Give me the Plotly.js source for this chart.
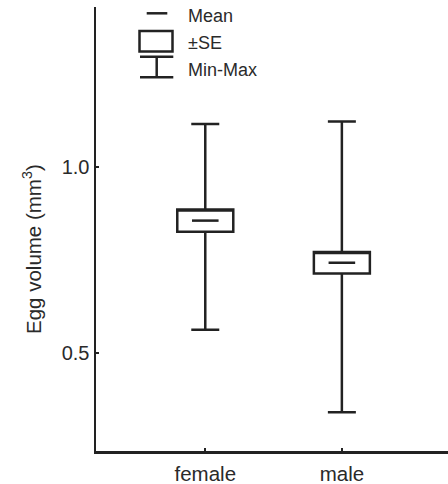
<!DOCTYPE html>
<html>
<head>
<meta charset="utf-8">
<script src="https://cdn.plot.ly/plotly-3.0.1.min.js"></script>
<style>html,body{margin:0;padding:0;background:#fff;}#chart{width:448px;height:484px;}</style>
</head>
<body>
<div id="chart"></div>
<script>
// Data
const categories = ["female", "male"];
const meanVals = [0.855, 0.742];
const seVals = [0.030, 0.029];
const minVals = [0.562, 0.341];
const maxVals = [1.114, 1.121];
const yTickVals = [0.5, 1.0];
const legendLabels = ["Mean", "\u00b1SE", "Min-Max"];
const yTitle = "Egg volume (mm<sup>3</sup>)";

const INK = "#222";
const TXT = "#2a2a2a";
const FONT = "Liberation Sans, Arial, sans-serif";

const W = 448, H = 484;
const M = {l: 96, r: 0, t: 7, b: 33};
const PW = W - M.l - M.r, PH = H - M.t - M.b;
const px = x => (x - M.l) / PW;
const py = y => (H - M.b - y) / PH;

const lower = meanVals.map((m, i) => m - seVals[i]);
const upper = meanVals.map((m, i) => m + seVals[i]);

const boxTrace = {
  type: "box",
  x: categories,
  q1: lower,
  q3: upper,
  median: upper,
  lowerfence: minVals,
  upperfence: maxVals,
  width: 0.41,
  whiskerwidth: 0.5,
  fillcolor: "#ffffff",
  line: {color: INK, width: 2.5},
  boxpoints: false,
  hoverinfo: "skip",
  showlegend: false
};

const meanTrace = {
  type: "scatter",
  mode: "markers",
  x: categories,
  y: meanVals,
  marker: {symbol: "line-ew", size: 19, line: {color: INK, width: 2.5}},
  showlegend: false,
  hoverinfo: "skip"
};

// Hand-built legend (symbols + labels)
const shapes = [
  {type: "line", xref: "paper", yref: "paper", x0: px(146.7), x1: px(167.3), y0: py(13.3), y1: py(13.3), line: {color: INK, width: 2.5}},
  {type: "rect", xref: "paper", yref: "paper", x0: px(139.5), x1: px(172.5), y0: py(31), y1: py(51.5), line: {color: INK, width: 2.5}, fillcolor: "#fff"},
  {type: "line", xref: "paper", yref: "paper", x0: px(140), x1: px(173.3), y0: py(56.7), y1: py(56.7), line: {color: INK, width: 2.5}},
  {type: "line", xref: "paper", yref: "paper", x0: px(156.7), x1: px(156.7), y0: py(56.7), y1: py(77.3), line: {color: INK, width: 2.5}},
  {type: "line", xref: "paper", yref: "paper", x0: px(140), x1: px(173.3), y0: py(77.3), y1: py(77.3), line: {color: INK, width: 2.5}}
];
const legendY = [16.5, 43.3, 70];
const annotations = legendLabels.map((t, i) => ({
  xref: "paper", yref: "paper", x: px(186), y: py(legendY[i]),
  xanchor: "left", yanchor: "middle", showarrow: false,
  text: t, font: {family: FONT, size: 18, color: TXT}
}));
// y-axis title, placed as in the reference (slightly below the plot centre)
annotations.push({
  xref: "paper", yref: "paper", x: px(32), y: py(249),
  xanchor: "center", yanchor: "middle", showarrow: false, textangle: -90,
  text: yTitle, font: {family: FONT, size: 20.5, color: TXT}
});

const layout = {
  width: W, height: H,
  margin: M,
  paper_bgcolor: "#fff", plot_bgcolor: "#fff",
  showlegend: false,
  font: {family: FONT, size: 20, color: TXT},
  xaxis: {
    type: "category",
    range: [-0.8, 1.777],
    showgrid: false, zeroline: false,
    showline: true, linecolor: INK, linewidth: 2.5,
    ticks: "inside", ticklen: 3, tickwidth: 2, tickcolor: INK,
    ticklabelstandoff: 3,
    tickfont: {family: FONT, size: 20.5, color: TXT},
    fixedrange: true
  },
  yaxis: {
    range: [0.237, 1.428],
    tickvals: yTickVals,
    tickformat: ".1f",
    showgrid: false, zeroline: false,
    showline: true, linecolor: INK, linewidth: 2.5,
    ticks: "inside", ticklen: 3, tickwidth: 2, tickcolor: INK,
    tickfont: {family: FONT, size: 20, color: TXT},
    fixedrange: true
  },
  shapes: shapes,
  annotations: annotations
};

Plotly.newPlot("chart", [boxTrace, meanTrace], layout, {displayModeBar: false, staticPlot: true});
</script>
</body>
</html>
